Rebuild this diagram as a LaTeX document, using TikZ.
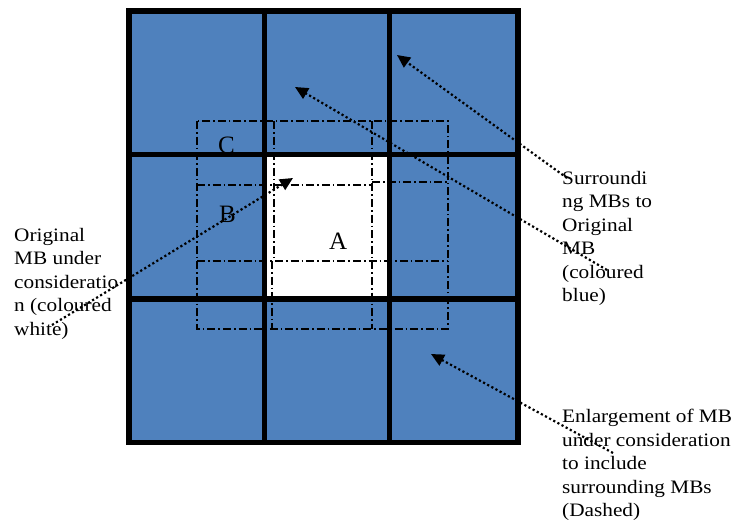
\documentclass[tikz,border=0pt]{standalone}
\usepackage{fontspec}
\setmainfont{Liberation Serif}
\newfontfamily\lblfont[FakeStretch=1.12]{Liberation Serif}
\usetikzlibrary{arrows.meta}
\definecolor{mbblue}{RGB}{79,129,189}
\begin{document}
\begin{tikzpicture}[x=1pt,y=-1pt,
  gridline/.style={line width=5.6pt, line cap=rect},
  enlarge/.style={line width=1.2pt, dash pattern=on 8pt off 3pt on 1.6pt off 3pt},
  pointer/.style={line width=2.2pt, dash pattern=on 2.2pt off 2.5pt, -{Triangle[length=13pt,width=12pt]}},
  lbl/.style={font=\lblfont\fontsize{19}{23.5}\selectfont, align=left, inner sep=0pt, anchor=north west},
  letter/.style={font=\fontsize{25}{28}\selectfont, inner sep=0pt, anchor=base west}]
\useasboundingbox (0,0) rectangle (746,525);
% cells
\fill[mbblue] (129,10.7) rectangle (518,442.5);
\fill[white] (264.5,154.5) rectangle (389.5,299);
% grid lines
\foreach \x in {129,264.5,389.5,518} \draw[gridline] (\x,10.7) -- (\x,442.5);
\foreach \y in {10.7,154.5,299,442.5} \draw[gridline] (129,\y) -- (518,\y);
% enlarged (dash-dot) region
\draw[enlarge] (197,121) rectangle (448,329);
\draw[enlarge] (197,185) -- (372,185);
\draw[enlarge] (372,182) -- (448,182);
\draw[enlarge] (197,261) -- (448,261);
\draw[enlarge] (274,121) -- (274,261);
\draw[enlarge] (272,261) -- (272,329);
\draw[enlarge] (372,121) -- (372,329);
% letters
\node[letter] (C) at (218,153) {C};
\node[letter] (B) at (219,222) {B};
\node[letter] (A) at (329,249) {A};
% labels
\node[lbl] (orig) at (14,228) {Original\\MB under\\consideratio\\n (coloured\\white)};
\node[lbl] (surr) at (562,171) {Surroundi\\ng MBs to\\Original\\MB\\(coloured\\blue)};
\node[lbl] (enl) at (562,409) {Enlargement of MB\\under consideration\\to include\\surrounding MBs\\(Dashed)};
% pointer ends
\coordinate (s1) at (52,325);  \coordinate (t1) at (293,178);
\coordinate (s2) at (567,178); \coordinate (t2) at (397,55);
\coordinate (s3) at (607,270); \coordinate (t3) at (295,87);
\coordinate (s4) at (613,453); \coordinate (t4) at (431,354);
\draw[pointer] (s1) -- (t1);
\draw[pointer] (s2) -- (t2);
\draw[pointer] (s3) -- (t3);
\draw[pointer] (s4) -- (t4);
\end{tikzpicture}
\end{document}
